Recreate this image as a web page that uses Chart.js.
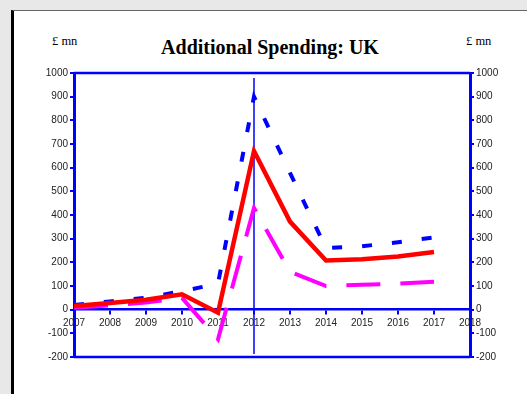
<!DOCTYPE html>
<html>
<head>
<meta charset="utf-8">
<script src="https://cdn.jsdelivr.net/npm/chart.js@4"></script>
<style>
    body { margin: 0; width: 527px; height: 394px; overflow: hidden; background: #e8e8e8; position: relative; }
    .frame { position: absolute; left: 11px; top: 10px; width: 600px; height: 500px; background: #fff; border-left: 3px solid #000; border-top: 1px solid #666; }
    .title { position: absolute; left: 270px; top: 37px; transform: translateX(-50%); font: bold 20px/20px "Liberation Serif", "Times New Roman", serif; color: #000; white-space: nowrap; }
    .unit { position: absolute; top: 35px; font: 12.5px/12.5px "Liberation Serif", "Times New Roman", serif; color: #000; }
    canvas { position: absolute; left: 0; top: 0; }
</style>
</head>
<body>
<div class="frame"></div>
<div class="title">Additional Spending: UK</div>
<div class="unit" style="left:52px">£ mn</div>
<div class="unit" style="left:466px">£ mn</div>
<canvas id="chart" width="527" height="394"></canvas>
<script>
// Chart data
const years = [2007, 2008, 2009, 2010, 2011, 2012, 2013, 2014, 2015, 2016, 2017];
const redSeries = [15, 28, 42, 65, -13, 670, 372, 208, 213, 225, 244];
const blueSeries = [20, 35, 50, 78, 110, 900, 578, 260, 268, 285, 305];
const magentaSeries = [8, 18, 30, 50, -125, 430, 160, 100, 105, 110, 118];
const xMin = 2007, xMax = 2018, markYear = 2012;
const yMin = -200, yMax = 1000, yStep = 100;

const BLUE = '#0000ff';
const tickFont = { family: '"Liberation Sans", Arial, sans-serif', size: 10 };

function toPoints(values) {
    return years.map((y, i) => ({ x: y, y: values[i] }));
}

// Draws the top/bottom frame lines and the vertical marker at 2012
const framePlugin = {
    id: 'frame',
    beforeDatasetsDraw(chart) {
        const { ctx, chartArea, scales } = chart;
        ctx.save();
        ctx.strokeStyle = BLUE;
        ctx.lineWidth = 1.5;
        const mx = scales.x.getPixelForValue(markYear);
        ctx.beginPath();
        ctx.moveTo(mx, chartArea.top + 5);
        ctx.lineTo(mx, chartArea.bottom - 3);
        ctx.stroke();
        ctx.restore();
    },
    afterDraw(chart) {
        const { ctx, chartArea } = chart;
        ctx.save();
        ctx.strokeStyle = BLUE;
        ctx.lineWidth = 2.5;
        ctx.beginPath();
        ctx.moveTo(chartArea.left, chartArea.top);
        ctx.lineTo(chartArea.right, chartArea.top);
        ctx.moveTo(chartArea.left, chartArea.bottom);
        ctx.lineTo(chartArea.right, chartArea.bottom);
        ctx.stroke();
        ctx.restore();
    }
};

function yAxis(position) {
    return {
        type: 'linear',
        position: position,
        min: yMin,
        max: yMax,
        afterFit(scale) { scale.width = 40; },
        ticks: { stepSize: yStep, color: '#222', font: tickFont, padding: 2, callback: v => String(v) },
        grid: { display: true, drawOnChartArea: false, color: BLUE, lineWidth: 2, tickLength: 4 },
        border: { display: true, color: BLUE, width: 3 }
    };
}

new Chart(document.getElementById('chart'), {
    type: 'line',
    data: {
        datasets: [
            {
                label: 'Red',
                data: toPoints(redSeries),
                borderColor: '#ff0000',
                borderWidth: 4.5,
                pointRadius: 0,
                tension: 0
            },
            {
                label: 'Blue',
                data: toPoints(blueSeries),
                borderColor: BLUE,
                borderWidth: 4,
                borderDash: [10, 20],
                pointRadius: 0,
                tension: 0
            },
            {
                label: 'Magenta',
                data: toPoints(magentaSeries),
                borderColor: '#ff00ff',
                borderWidth: 4,
                borderDash: [34, 20],
                pointRadius: 0,
                tension: 0
            }
        ]
    },
    options: {
        responsive: false,
        animation: false,
        devicePixelRatio: 1,
        layout: { padding: { left: 34, right: 17, top: 73, bottom: 37 } },
        plugins: {
            legend: { display: false },
            title: { display: false },
            tooltip: { enabled: false }
        },
        scales: {
            x: {
                type: 'linear',
                position: { y: 0 },
                min: xMin,
                max: xMax,
                ticks: {
                    stepSize: 1,
                    color: '#222',
                    font: tickFont,
                    padding: 4,
                    maxRotation: 0,
                    autoSkip: false,
                    callback: v => String(v)
                },
                grid: { display: true, drawOnChartArea: false, color: BLUE, lineWidth: 2, tickLength: 4 },
                border: { display: true, color: BLUE, width: 2.5 }
            },
            y: yAxis('left'),
            y2: yAxis('right')
        }
    },
    plugins: [framePlugin]
});
</script>
</body>
</html>
